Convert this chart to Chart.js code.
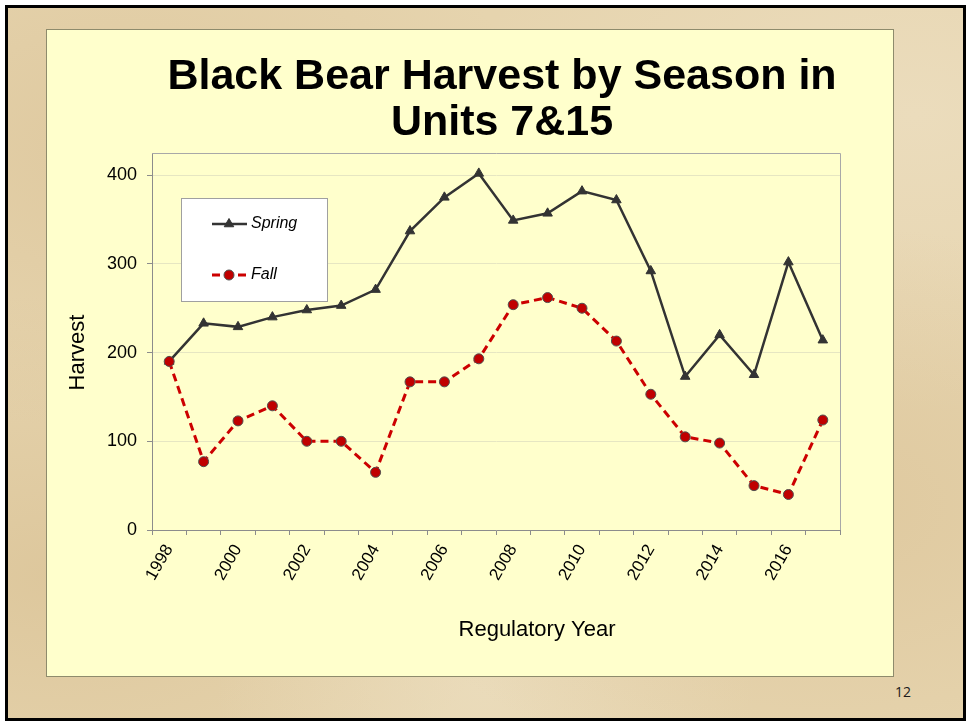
<!DOCTYPE html>
<html>
<head>
<meta charset="utf-8">
<script src="https://cdn.jsdelivr.net/npm/chart.js@4.4.1/dist/chart.umd.min.js"></script>
<style>
  html, body { margin:0; padding:0; width:966px; height:723px; overflow:hidden; background:#ffffff; }
  #frame {
    position:absolute; left:5px; top:5px; width:955px; height:710px;
    border:3px solid #000;
    background-color:#e6d4ae;
    background-image:
      radial-gradient(ellipse at 12% 20%, rgba(214,188,142,0.45), rgba(214,188,142,0) 35%),
      radial-gradient(ellipse at 85% 70%, rgba(212,184,136,0.4), rgba(212,184,136,0) 40%),
      radial-gradient(ellipse at 50% 95%, rgba(238,226,198,0.5), rgba(238,226,198,0) 40%),
      radial-gradient(ellipse at 95% 15%, rgba(240,228,202,0.5), rgba(240,228,202,0) 35%),
      radial-gradient(ellipse at 5% 80%, rgba(208,180,130,0.4), rgba(208,180,130,0) 35%);
  }
  #panel {
    position:absolute; left:46px; top:29px; width:846px; height:646px;
    border:1px solid #8e8b6c; background:#ffffcc;
  }
  #pg {
    position:absolute; left:895px; top:682px;
    font:14px "Open Sans", "Noto Sans", sans-serif; color:#1a1a1a;
  }
</style>
</head>
<body>
<div id="frame"></div>
<div id="panel"><canvas id="c" width="846" height="646"></canvas></div>
<div id="pg">12</div>
<script>
// ---- data ----
const years = ['1998','1999','2000','2001','2002','2003','2004','2005','2006','2007',
               '2008','2009','2010','2011','2012','2013','2014','2015','2016','2017'];
const springHarvest = [190,233,229,240,248,253,271,337,375,402,349,357,382,372,292,173,220,175,302,214];
const fallHarvest   = [190,77,123,140,100,100,65,167,167,193,254,262,250,213,153,105,98,50,40,124];
const shownYearLabels = ['1998','2000','2002','2004','2006','2008','2010','2012','2014','2016'];
const titleLines = ['Black Bear Harvest by Season in', 'Units 7&15'];
const xAxisTitle = 'Regulatory Year';
const yAxisTitle = 'Harvest';
const yMax = 425;
const yStep = 100;

const FONT = '"Liberation Sans", Arial, sans-serif';

const decor = {
  id: 'decor',
  beforeDatasetsDraw(chart) {
    const { ctx, chartArea: a } = chart;
    ctx.save();
    ctx.strokeStyle = '#a8a8a8';
    ctx.lineWidth = 1;
    ctx.beginPath();
    ctx.moveTo(a.left, a.top + 0.5);
    ctx.lineTo(a.right + 0.5, a.top + 0.5);
    ctx.lineTo(a.right + 0.5, a.bottom);
    ctx.stroke();
    ctx.restore();
  },
  afterDraw(chart) {
    const { ctx, chartArea: a } = chart;
    ctx.save();
    // main title
    ctx.fillStyle = '#000';
    ctx.textAlign = 'center';
    ctx.textBaseline = 'middle';
    ctx.font = 'bold 43px ' + FONT;
    titleLines.forEach((t, i) => ctx.fillText(t, 455, 47 + i * 46));
    // axis titles
    ctx.font = '22px ' + FONT;
    ctx.fillText(xAxisTitle, (a.left + a.right) / 2 + 41, a.bottom + 100);
    ctx.save();
    ctx.translate(a.left - 74, (a.top + a.bottom) / 2 + 11);
    ctx.rotate(-Math.PI / 2);
    ctx.fillText(yAxisTitle, 0, 0);
    ctx.restore();

    // legend box
    const lx = a.left + 29, ly = a.top + 45, lw = 146, lh = 103;
    ctx.fillStyle = '#ffffff';
    ctx.fillRect(lx, ly, lw, lh);
    ctx.strokeStyle = '#a0a0a0';
    ctx.lineWidth = 1;
    ctx.strokeRect(lx + 0.5, ly + 0.5, lw, lh);
    const order = [1, 0]; // Spring, Fall
    order.forEach((di, i) => {
      const ds = chart.data.datasets[di];
      const y = ly + 26 + i * 51;
      ctx.save();
      ctx.strokeStyle = ds.borderColor;
      ctx.lineWidth = ds.borderWidth;
      ctx.setLineDash(ds.borderDash || []);
      ctx.beginPath();
      ctx.moveTo(lx + 31, y);
      ctx.lineTo(lx + 66, y);
      ctx.stroke();
      ctx.setLineDash([]);
      ctx.fillStyle = ds.pointBackgroundColor;
      ctx.strokeStyle = ds.pointBorderColor;
      ctx.lineWidth = ds.pointBorderWidth;
      Chart.helpers.drawPoint(ctx, { pointStyle: ds.pointStyle, radius: ds.pointRadius, borderWidth: ds.pointBorderWidth, rotation: 0 }, lx + 48, y);
      ctx.restore();
      ctx.fillStyle = '#000';
      ctx.textAlign = 'left';
      ctx.textBaseline = 'middle';
      ctx.font = 'italic 16px ' + FONT;
      ctx.fillText(ds.label, lx + 70, y);
    });
    ctx.restore();
  }
};

new Chart(document.getElementById('c'), {
  type: 'line',
  data: {
    labels: years,
    datasets: [
      {
        label: 'Fall',
        data: fallHarvest,
        order: 0,
        borderColor: '#cc0000',
        borderWidth: 3,
        borderDash: [8, 5],
        pointStyle: 'circle',
        pointRadius: 5,
        pointBackgroundColor: '#c00000',
        pointBorderColor: '#505050',
        pointBorderWidth: 1,
        tension: 0,
        fill: false
      },
      {
        label: 'Spring',
        data: springHarvest,
        order: 1,
        borderColor: '#333333',
        borderWidth: 2.5,
        pointStyle: 'triangle',
        pointRadius: 5.5,
        pointBackgroundColor: '#333333',
        pointBorderColor: '#333333',
        pointBorderWidth: 1,
        tension: 0,
        fill: false
      }
    ]
  },
  options: {
    responsive: false,
    animation: false,
    events: [],
    layout: { padding: { left: 0, right: 53, top: 123, bottom: 0 } },
    plugins: {
      legend: { display: false },
      title: { display: false },
      tooltip: { enabled: false }
    },
    scales: {
      x: {
        type: 'category',
        offset: true,
        afterFit(scale) { scale.height = 146; },
        grid: {
          display: true,
          offset: true,
          drawOnChartArea: false,
          drawTicks: true,
          tickLength: 5,
          tickColor: '#8c8c8c',
          color: '#8c8c8c'
        },
        border: { display: true, color: '#8c8c8c', width: 1 },
        ticks: {
          autoSkip: false,
          minRotation: 60,
          maxRotation: 60,
          padding: 6,
          color: '#000',
          font: { family: FONT, size: 17 },
          callback(value, index) {
            const y = years[index];
            return shownYearLabels.includes(y) ? y : '';
          }
        }
      },
      y: {
        min: 0,
        max: yMax,
        afterFit(scale) { scale.width = 105; },
        grid: {
          color: '#e6e6c2',
          drawTicks: true,
          tickLength: 5,
          tickColor: '#8c8c8c'
        },
        border: { display: true, color: '#8c8c8c', width: 1 },
        ticks: {
          stepSize: yStep,
          includeBounds: false,
          padding: 10,
          color: '#000',
          font: { family: FONT, size: 18 }
        }
      }
    }
  },
  plugins: [decor]
});
</script>
</body>
</html>
